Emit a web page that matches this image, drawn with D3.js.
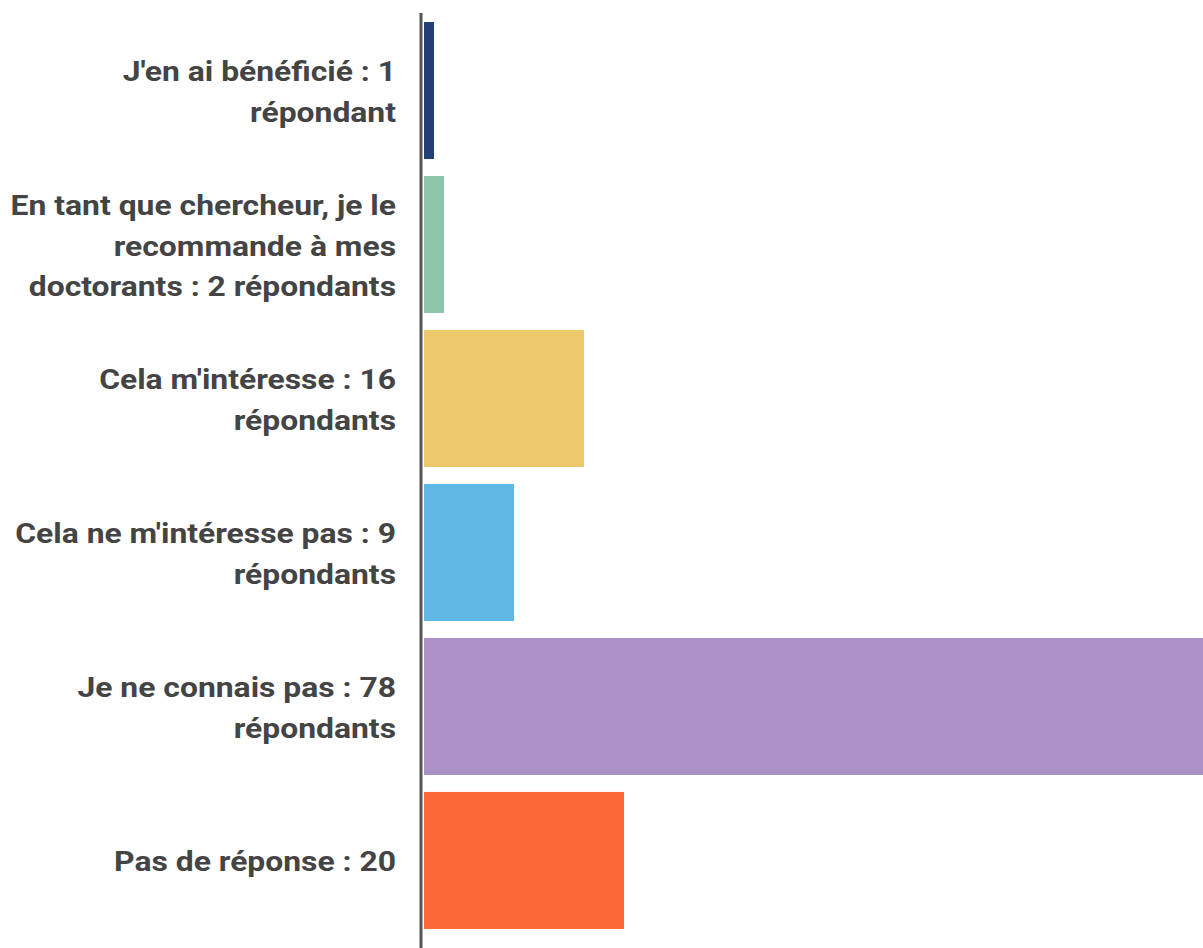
<!DOCTYPE html>
<html>
<head>
<meta charset="utf-8">
<script src="https://cdn.jsdelivr.net/npm/d3@7"></script>
<style>
  html, body { margin: 0; padding: 0; background: #fff; overflow: hidden; }
  text { font-family: Roboto, "Noto Sans", sans-serif; }
</style>
</head>
<body>
<div id="chart"></div>
<script>
// categories (line breaks as in the picture)
var categories = [
  "J'en ai bénéficié : 1\nrépondant",
  "En tant que chercheur, je le\nrecommande à mes\ndoctorants : 2 répondants",
  "Cela m'intéresse : 16\nrépondants",
  "Cela ne m'intéresse pas : 9\nrépondants",
  "Je ne connais pas : 78\nrépondants",
  "Pas de réponse : 20"
];
var values = [1, 2, 16, 9, 78, 20];
var colors = ["#233f74", "#8cc5a9", "#eec96b", "#5eb7e4", "#ab91c6", "#fd6838"];

var width = 1203, height = 948;

var svg = d3.select("#chart")
  .append("svg")
  .attr("width", width)
  .attr("height", height);

// scales
var y = d3.scaleBand()
  .domain(categories)
  .range([22, 929])
  .paddingInner(0.11)
  .paddingOuter(0);

var x = d3.scaleLinear()
  .domain([0, d3.max(values)])
  .range([424, 1204]);

// bars
svg.selectAll("rect.bar")
  .data(values)
  .enter().append("rect")
  .attr("class", "bar")
  .attr("x", x(0))
  .attr("y", function(d, i) { return y(categories[i]); })
  .attr("width", function(d) { return x(d) - x(0); })
  .attr("height", y.bandwidth())
  .attr("fill", function(d, i) { return colors[i]; });

// labels (the reference text is a bit wider than plain Roboto)
var lineH = 40.5, labelX = 396;
var labels = svg.selectAll("text.lbl")
  .data(categories)
  .enter().append("text")
  .attr("class", "lbl")
  .attr("text-anchor", "end")
  .attr("transform", "translate(" + labelX + ",0) scale(1.18,1)")
  .style("font-size", "27px")
  .style("font-weight", "bold")
  .style("fill", "#444444");

labels.each(function(d) {
  var lines = d.split("\n");
  var cy = y(d) + y.bandwidth() / 2;
  var t = d3.select(this);
  lines.forEach(function(l, k) {
    t.append("tspan")
      .attr("x", 0)
      .attr("y", cy + (k - (lines.length - 1) / 2) * lineH + 11)
      .text(l);
  });
});

// axis line
svg.append("line")
  .attr("x1", 421).attr("x2", 421)
  .attr("y1", 13).attr("y2", height)
  .style("stroke", "#555555")
  .style("stroke-width", 3);
</script>
</body>
</html>
